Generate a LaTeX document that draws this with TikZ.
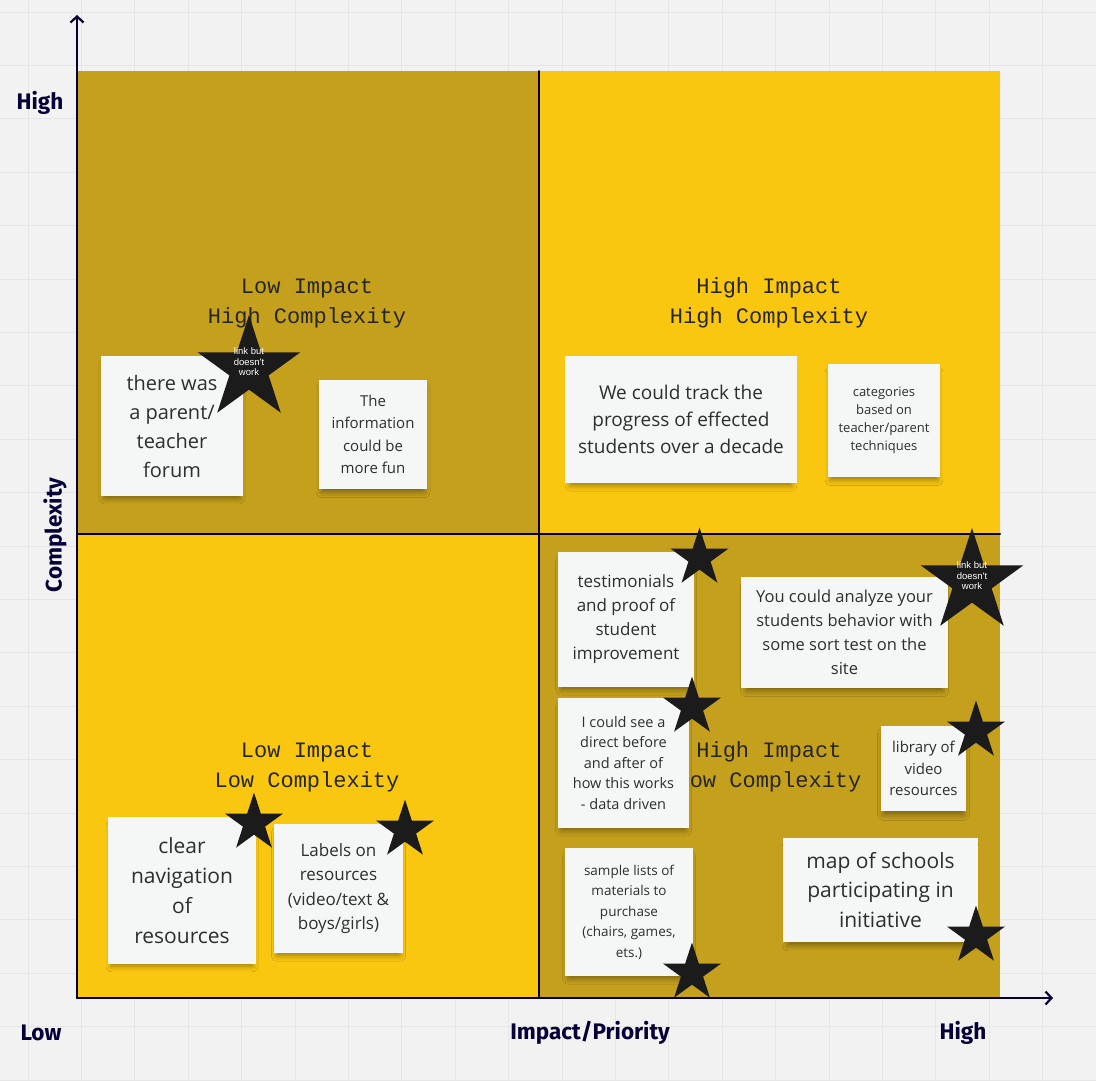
\documentclass[tikz,border=0pt]{standalone}
\usepackage{fontspec}
\setmainfont{Open Sans}
\newfontfamily\quadfont{Liberation Mono}
\newfontfamily\axisfont{Fira Sans}
\newfontfamily\starfont{Liberation Sans}
\usetikzlibrary{arrows.meta,shapes.geometric,shadows.blur}
\definecolor{paper}{HTML}{F2F2F2}
\definecolor{gridgray}{HTML}{E6E6E6}
\definecolor{gold}{HTML}{C5A01C}
\definecolor{sunny}{HTML}{FAC710}
\definecolor{navy}{HTML}{050038}
\definecolor{stickywhite}{HTML}{F5F6F6}
\definecolor{inkgray}{HTML}{2E2E2E}
\definecolor{starblack}{HTML}{1B1B1B}
\newcommand\fs[2]{\fontsize{#1}{#2}\selectfont}
\begin{document}
\begin{tikzpicture}[x=1pt, y=-1pt, line join=round, line cap=round,
  axis/.style={navy, line width=2.2pt},
  divider/.style={navy, line width=2pt},
  axislabel/.style={navy, font=\axisfont\bfseries\fs{22.5}{25}},
  quadtitle/.style={black!85, align=center, font=\quadfont\fs{22}{30}},
  sticky/.style={fill=stickywhite, text=inkgray, align=center, inner sep=0pt,
    blur shadow={shadow xshift=0pt, shadow yshift=-6pt, shadow scale=0.95, shadow blur radius=6pt, shadow opacity=40}},
  bigstar/.style={star, star points=5, star point ratio=2.618, fill=starblack, inner sep=0pt, minimum size=108pt},
  smallstar/.style={bigstar, minimum size=61pt},
  startext/.style={white, align=center, inner sep=0pt, font=\starfont\fs{9.5}{10.5}}]
\fill[paper] (0,0) rectangle (1096,1080);
\useasboundingbox (0,0) rectangle (1096,1080);
\foreach \i in {0,...,20} {
  \draw[gridgray, line width=1pt] ({28+53.4*\i},0) -- ({28+53.4*\i},1080);
  \draw[gridgray, line width=1pt] (0,{12+53.4*\i}) -- (1096,{12+53.4*\i});
}
\fill[gold] (77,71) rectangle (539,534);
\fill[sunny] (539,71) rectangle (1000,534);
\fill[sunny] (77,534) rectangle (539,998);
\fill[gold] (539,534) rectangle (1000,998);
\coordinate (O) at (77,998);
\coordinate (ytip) at (77,15);
\coordinate (xtip) at (1053,998);
\coordinate (midtop) at (539,71);
\coordinate (midbot) at (539,998);
\coordinate (midleft) at (77,534);
\coordinate (midright) at (1000,534);
\draw[divider] (midtop) -- (midbot);
\draw[divider] (midleft) -- (midright);
\draw[axis, -{Straight Barb[length=6pt, width=13pt]}] (O) -- (ytip);
\draw[axis, -{Straight Barb[length=6pt, width=13pt]}] (O) -- (xtip);
\node[axislabel] (yhigh) at (40,103) {High};
\node[axislabel, rotate=90] (ylabel) at (55,535) {Complexity};
\node[axislabel] (xlow) at (41,1033) {Low};
\node[axislabel] (xlabel) at (590,1033) {Impact/Priority};
\node[axislabel] (xhigh) at (963,1033) {High};
\node[quadtitle] (qLH) at (307,303) {Low Impact\\High Complexity};
\node[quadtitle] (qHH) at (769,303) {High Impact\\High Complexity};
\node[quadtitle] (qLL) at (307,767) {Low Impact\\Low Complexity};
\node[quadtitle] (qHL) at (769,767) {High Impact\\Low Complexity};
\node[sticky, minimum width=142pt, minimum height=140pt, font=\fs{20}{29}] (forum) at (172,426) {there was\\a parent/\\teacher\\forum};
\node[sticky, minimum width=108pt, minimum height=109pt, font=\fs{15}{22.5}] (funinfo) at (373,434.5) {The\\information\\could be\\more fun};
\node[sticky, minimum width=232pt, minimum height=127pt, font=\fs{19}{27}] (track) at (681,419.5) {We could track the\\progress of effected\\students over a decade};
\node[sticky, minimum width=112pt, minimum height=113pt, font=\fs{13}{18}] (categories) at (884,420.5) {categories\\based on\\teacher/parent\\techniques};
\node[sticky, minimum width=136pt, minimum height=135pt, font=\fs{17}{24}] (testimonials) at (626,619.5) {testimonials\\and proof of\\student\\improvement};
\node[sticky, minimum width=207pt, minimum height=111pt, font=\fs{16.5}{24}] (analyze) at (844.5,632.5) {You could analyze your\\students behavior with\\some sort test on the\\site};
\node[sticky, minimum width=131pt, minimum height=130pt, font=\fs{14.5}{20.5}] (beforeafter) at (623.5,763) {I could see a\\direct before\\and after of\\how this works\\- data driven};
\node[sticky, minimum width=85pt, minimum height=85pt, font=\fs{15}{21.5}] (library) at (923.5,768.5) {library of\\video\\resources};
\node[sticky, minimum width=128pt, minimum height=128pt, font=\fs{13.5}{20.5}] (samplelists) at (629,912) {sample lists of\\materials to\\purchase\\(chairs, games,\\ets.)};
\node[sticky, minimum width=195pt, minimum height=104pt, font=\fs{21}{29.5}] (schoolmap) at (880.5,890) {map of schools\\participating in\\initiative};
\node[sticky, minimum width=148pt, minimum height=147pt, font=\fs{21}{30}] (navigation) at (182,890.5) {clear\\navigation\\of\\resources};
\node[sticky, minimum width=129pt, minimum height=129pt, font=\fs{17}{24.5}] (labels) at (338.5,888.5) {Labels on\\resources\\(video/text \&\\boys/girls)};
\node[bigstar] (linkA) at (249,369) {};
\node[startext] (linkAtext) at (249,362) {link but\\doesn't\\work};
\node[bigstar] (linkB) at (972,582) {};
\node[startext] (linkBtext) at (972,576) {link but\\doesn't\\work};
\node[smallstar] (starTest) at (699.5,558) {};
\node[smallstar] (starBefore) at (692,707) {};
\node[smallstar] (starLib) at (976,731) {};
\node[smallstar] (starSample) at (692,973) {};
\node[smallstar] (starMap) at (976,936) {};
\node[smallstar] (starNav) at (254,823) {};
\node[smallstar] (starLabels) at (405,830) {};
\end{tikzpicture}
\end{document}
